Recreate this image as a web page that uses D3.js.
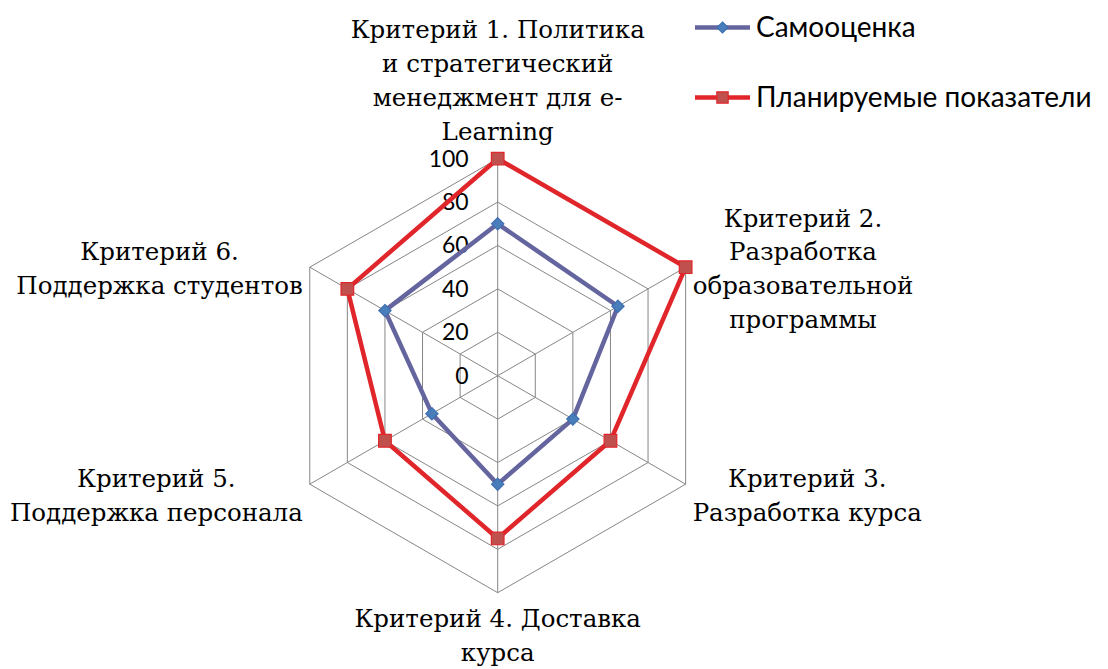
<!DOCTYPE html>
<html>
<head>
<meta charset="utf-8">
<script src="https://cdn.jsdelivr.net/npm/d3@7"></script>
<style>
  body { margin: 0; background: #fff; }
  #radar { width: 1108px; height: 669px; }
</style>
</head>
<body>
<div id="radar"></div>
<script>
// categories, each split into the lines shown on the chart
const categories = [
  ["Критерий 1. Политика", "и стратегический", "менеджмент для e-", "Learning"],
  ["Критерий 2.", "Разработка", "образовательной", "программы"],
  ["Критерий 3.", "Разработка курса"],
  ["Критерий 4. Доставка", "курса"],
  ["Критерий 5.", "Поддержка персонала"],
  ["Критерий 6.", "Поддержка студентов"]
];
const selfScore = [70, 64, 40, 50, 35, 60];
const plannedScore = [100, 100, 60, 75, 60, 80];
const seriesNames = ["Самооценка", "Планируемые показатели"];
const tickValues = [0, 20, 40, 60, 80, 100];

// square turned by 45 degrees, like the Excel diamond marker
const squareDiamond = {
  draw(context, size) {
    const h = Math.sqrt(size) / Math.SQRT2;
    context.moveTo(0, -h);
    context.lineTo(h, 0);
    context.lineTo(0, h);
    context.lineTo(-h, 0);
    context.closePath();
  }
};

function drawRadar() {
  const container = d3.select("#radar");
  container.selectAll("*").remove();

  const width = 1108;
  const height = 669;
  const cx = 497.7, cy = 375.7;
  const serif = "'DejaVu Serif', serif";
  const sans = "Lato, 'Open Sans', sans-serif";

  const svg = container.append("svg")
    .attr("width", width)
    .attr("height", height);

  const r = d3.scaleLinear().domain([0, 100]).range([0, 217]);
  const angle = d3.scaleLinear()
    .domain([0, categories.length])
    .range([-Math.PI / 2, Math.PI * 1.5]);

  const pt = (i, v) => [cx + r(v) * Math.cos(angle(i)), cy + r(v) * Math.sin(angle(i))];
  const idx = d3.range(categories.length);

  const g = svg.append("g");

  // rings
  g.selectAll(".ring")
    .data(tickValues.filter(t => t > 0))
    .enter().append("polygon")
    .attr("points", t => idx.map(i => pt(i, t).join(",")).join(" "))
    .attr("fill", "none")
    .attr("stroke", "#868686")
    .attr("stroke-width", 1);

  // spokes
  g.selectAll(".spoke")
    .data(idx)
    .enter().append("line")
    .attr("x1", cx).attr("y1", cy)
    .attr("x2", i => pt(i, 100)[0])
    .attr("y2", i => pt(i, 100)[1])
    .attr("stroke", "#868686")
    .attr("stroke-width", 1);

  // tick labels
  g.selectAll(".tick")
    .data(tickValues)
    .enter().append("text")
    .attr("x", cx - 29)
    .attr("y", t => cy - r(t) + 2)
    .attr("text-anchor", "end")
    .attr("dominant-baseline", "middle")
    .style("font-family", sans)
    .style("font-size", "23px")
    .attr("fill", "#000")
    .text(t => t);

  const line = d3.line().curve(d3.curveLinearClosed);

  const series = [
    { name: seriesNames[0], values: selfScore, stroke: "#64649e", fill: "#4a7ebb", mstroke: "#3d6fb0", shape: squareDiamond, size: 75 },
    { name: seriesNames[1], values: plannedScore, stroke: "#e0262b", fill: "#c0504d", mstroke: "#e0262b", shape: d3.symbolSquare, size: 160 }
  ];

  series.forEach(s => {
    g.append("path")
      .attr("d", line(s.values.map((v, i) => pt(i, v))))
      .attr("fill", "none")
      .attr("stroke", s.stroke)
      .attr("stroke-width", 4.5)
      .attr("stroke-linejoin", "round");

    g.selectAll(null)
      .data(s.values)
      .enter().append("path")
      .attr("d", d3.symbol().type(s.shape).size(s.size))
      .attr("transform", (v, i) => `translate(${pt(i, v)})`)
      .attr("fill", s.fill)
      .attr("stroke", s.mstroke)
      .attr("stroke-width", 1.2);
  });

  // category labels
  const lh = 33.8;
  categories.forEach((lines, i) => {
    const a = angle(i);
    const [vx, vy] = pt(i, 100);
    const t = svg.append("text")
      .style("font-family", serif)
      .style("font-size", "24.5px")
      .attr("fill", "#000")
      .attr("text-anchor", "middle");
    const spans = lines.map(l => t.append("tspan").text(l));
    const maxW = d3.max(spans, sp => sp.node().getComputedTextLength());
    const cos = Math.cos(a), sin = Math.sin(a);
    let x, firstBase;
    if (Math.abs(cos) < 0.01) {
      x = vx;
      if (sin < 0) firstBase = vy - 19 - (lines.length - 1) * lh;
      else firstBase = vy + 34;
    } else {
      x = vx + Math.sign(cos) * (7 + maxW / 2);
      const mid = vy + (sin > 0 ? 13 : 3);
      firstBase = mid - (lines.length - 1) * lh / 2 + 7;
    }
    spans.forEach((sp, k) => sp.attr("x", x).attr("y", firstBase + k * lh));
  });

  // legend
  const legend = svg.append("g");
  series.forEach((s, k) => {
    const ly = 27.5 + k * 70;
    legend.append("line")
      .attr("x1", 695).attr("x2", 750)
      .attr("y1", ly).attr("y2", ly)
      .attr("stroke", s.stroke)
      .attr("stroke-width", 4.5);
    legend.append("path")
      .attr("d", d3.symbol().type(s.shape).size(s.size * 0.8))
      .attr("transform", `translate(722.5,${ly})`)
      .attr("fill", s.fill)
      .attr("stroke", s.mstroke)
      .attr("stroke-width", 1.2);
    legend.append("text")
      .attr("x", 756)
      .attr("y", ly + 9.5)
      .style("font-family", sans)
      .style("font-size", "28px")
      .attr("fill", "#000")
      .text(s.name);
  });
}

drawRadar();
</script>
</body>
</html>
